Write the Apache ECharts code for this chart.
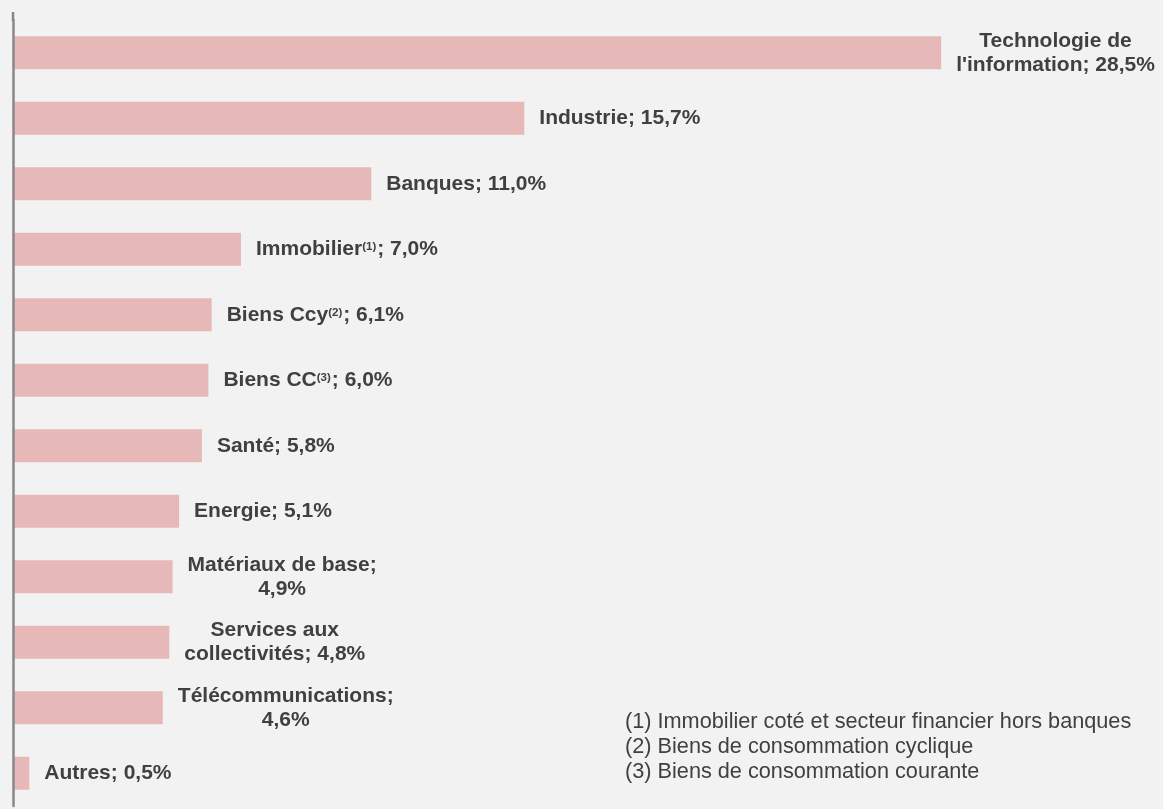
<!DOCTYPE html>
<html>
<head>
<meta charset="utf-8">
<script src="https://cdn.jsdelivr.net/npm/echarts@6/dist/echarts.min.js"></script>
<style>
html,body{margin:0;padding:0;background:#f2f2f2;}
#chart{width:1163px;height:809px;}
</style>
</head>
<body>
<div id="chart"></div>
<script>
const categories = ["Technologie de l'information", "Industrie", "Banques", "Immobilier", "Biens Ccy", "Biens CC", "Santé", "Energie", "Matériaux de base", "Services aux collectivités", "Télécommunications", "Autres"];
const notes = ["", "", "", "(1)", "(2)", "(3)", "", "", "", "", "", ""];
const values = [28.5, 15.7, 11.0, 7.0, 6.1, 6.0, 5.8, 5.1, 4.9, 4.8, 4.6, 0.5];
const firstLines = ["Technologie de", null, null, null, null, null, null, null, "Matériaux de base;", "Services aux", "Télécommunications;", null];
const footnotes = ["(1) Immobilier coté et secteur financier hors banques", "(2) Biens de consommation cyclique", "(3) Biens de consommation courante"];

const textColor = '#404040';
const font = '"Liberation Sans", Arial, sans-serif';

function fmt(v) { return v.toFixed(1).replace('.', ','); }

function buildLabel(i) {
  const name = categories[i];
  const note = notes[i];
  const tail = '; ' + fmt(values[i]) + '%';
  const fl = firstLines[i];
  if (fl) {
    const full = name + tail;
    const rest = full.slice(fl.length).trim();
    return '{t|' + fl + '}\n{t|' + rest + '}';
  }
  if (note) {
    return '{t|' + name + '}{s|' + note + '}{t|' + tail + '}';
  }
  return '{t|' + name + tail + '}';
}

const chart = echarts.init(document.getElementById('chart'));
chart.setOption({
  backgroundColor: '#f2f2f2',
  animation: false,
  grid: { left: 13, top: 20, bottom: 3, width: 977 },
  xAxis: {
    type: 'value', min: 0, max: 30,
    show: false
  },
  yAxis: {
    type: 'category', data: categories, inverse: true, z: 5,
    axisLine: { show: true, lineStyle: { color: '#888888', width: 2.5 } },
    axisTick: { show: false },
    axisLabel: { show: false }
  },
  series: [{
    type: 'bar',
    data: values,
    barWidth: 33,
    itemStyle: { color: '#e6b9b8' },
    label: {
      show: true,
      position: 'right',
      distance: 15,
      formatter: function (p) { return buildLabel(p.dataIndex); },
      rich: {
        t: { fontFamily: font, fontSize: 21, fontWeight: 'bold', color: textColor, lineHeight: 24, align: 'center' },
        s: { fontFamily: font, fontSize: 11.5, fontWeight: 'bold', color: textColor, lineHeight: 24, verticalAlign: 'top', padding: [4, 1, 0, 0] }
      }
    }
  }],
  graphic: [{
    type: 'rect',
    left: 11.75,
    top: 12,
    z: 10,
    shape: { width: 2.5, height: 9 },
    style: { fill: '#888888' }
  }, {
    type: 'text',
    left: 625,
    top: 710,
    style: {
      text: footnotes.join('\n'),
      fontFamily: font,
      fontSize: 21.7,
      lineHeight: 25,
      fill: textColor
    }
  }]
});
</script>
</body>
</html>
